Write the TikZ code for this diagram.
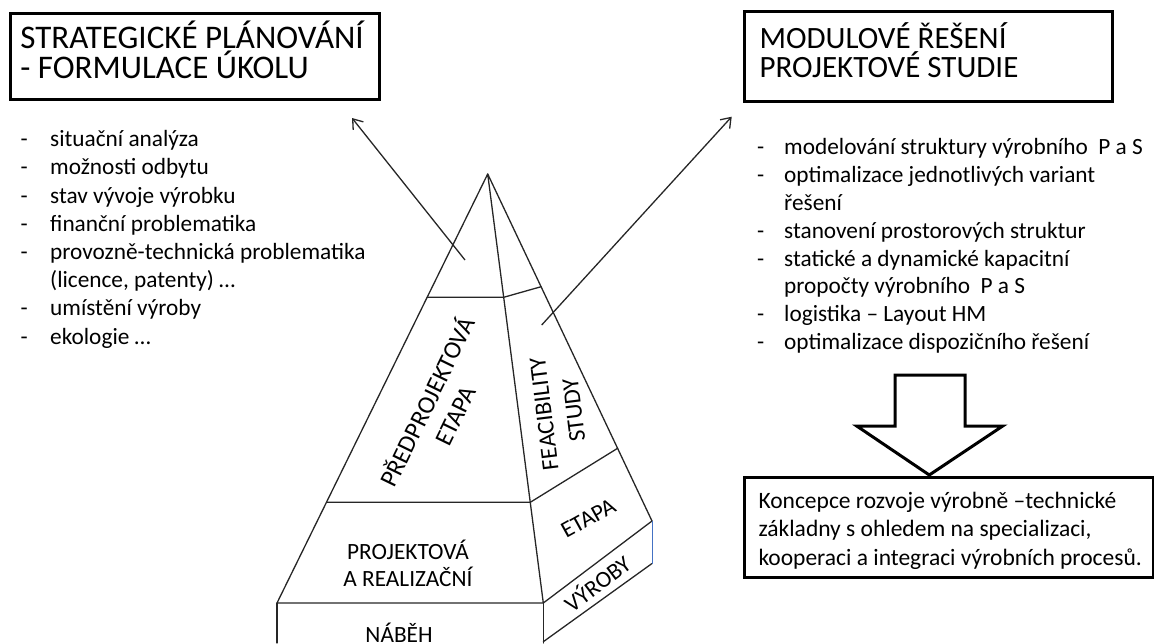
\documentclass[tikz,border=0pt]{standalone}
\usepackage{fontspec}
\setmainfont{Carlito}
\usetikzlibrary{arrows.meta,calc}
\newcommand{\itm}[2][29.5pt]{\makebox[#1][l]{-}#2}
\newcommand{\cnt}[2][29.5pt]{\hspace*{#1}#2}
\begin{document}
\begin{tikzpicture}[x=1pt,y=-1pt,
  edge/.style={line width=1.3pt, draw=black!85, line cap=round, line join=round},
  frame/.style={line width=3pt, draw=black, inner sep=0pt, anchor=north west},
  pointer/.style={line width=1.3pt, draw=black!85, -{Straight Barb[length=9pt,width=13pt,line width=1.3pt]}},
  % multi-line nodes: the base anchor sits on the baseline of the last line
  titletext/.style={font=\fontsize{33}{30.5}\selectfont, align=left, inner sep=0pt, anchor=base west},
  listtext/.style={font=\fontsize{23.3}{28.2}\selectfont, align=left, inner sep=0pt, anchor=base west},
  facelabel/.style={font=\fontsize{23.3}{27}\selectfont, align=center, inner sep=0pt},
]
\useasboundingbox (0,0) rectangle (1154,643);

% ---- title frames ----
\node[frame, minimum width=369pt, minimum height=86.3pt] (planbox) at (9,11.7) {};
\node[titletext] (plan) at (20.2,78.5) {STRATEGICKÉ PLÁNOVÁNÍ\\- FORMULACE ÚKOLU};
\node[frame, minimum width=367.4pt, minimum height=90pt] (modbox) at (743.3,10) {};
\node[titletext, font=\fontsize{31}{29.5}\selectfont] (mod) at (759.3,77.5) {MODULOVÉ ŘEŠENÍ\\PROJEKTOVÉ STUDIE};

% ---- lists ----
\node[listtext] (leftlist) at (20.5,344) {%
  \itm{situační analýza}\\
  \itm{možnosti odbytu}\\
  \itm{stav vývoje výrobku}\\
  \itm{finanční problematika}\\
  \itm{provozně-technická problematika}\\
  \cnt{(licence, patenty) …}\\
  \itm{umístění výroby}\\
  \itm{ekologie …}};
\node[listtext, font=\fontsize{23.3}{27.8}\selectfont] (rightlist) at (757,349.5) {%
  \itm[27pt]{modelování struktury výrobního\ \ P a S}\\
  \itm[27pt]{optimalizace jednotlivých variant}\\
  \cnt[27pt]{řešení}\\
  \itm[27pt]{stanovení prostorových struktur}\\
  \itm[27pt]{statické a dynamické kapacitní}\\
  \cnt[27pt]{propočty výrobního\ \ P a S}\\
  \itm[27pt]{logistika – Layout HM}\\
  \itm[27pt]{optimalizace dispozičního řešení}};

% ---- block arrow and result frame ----
\draw[line width=3pt, line join=miter] (895,375) -- (965,375) -- (965,426) -- (1002.7,426)
  -- (929.3,475) -- (856.7,426) -- (895,426) -- cycle;
\node[frame, minimum width=409.5pt, minimum height=100pt] (resbox) at (742.7,476) {};
\node[listtext, font=\fontsize{23.5}{28.4}\selectfont] (res) at (758.3,565) {Koncepce rozvoje výrobně –technické\\základny s ohledem na specializaci,\\kooperaci a integraci výrobních procesů.};

% ---- pyramid ----
\coordinate (A) at (487.7,174);
\coordinate (L) at (277,603);
\coordinate (M) at (543.3,603);
\coordinate (R) at (652,521);
\coordinate (L1) at ($(A)!0.2874!(L)$);
\coordinate (M1) at ($(A)!0.2874!(M)$);
\coordinate (L2) at ($(A)!0.7653!(L)$);
\coordinate (M2) at ($(A)!0.7653!(M)$);
\coordinate (R1) at ($(A)!0.3248!(R)$);
\coordinate (R2) at ($(A)!0.7905!(R)$);
\coordinate (Lb) at (277,643);
\coordinate (Mb) at (543.3,643);
\coordinate (Mc) at (543.3,641.7);
\coordinate (Rb) at (652,563.5);

\draw[edge] (L) -- (A) -- (M) -- cycle;
\draw[edge] (A) -- (R);
\draw[edge] (L1) -- (M1) -- (R1);
\draw[edge] (L2) -- (M2) -- (R2);
\draw[edge] (M) -- (R);
\draw[edge] (L) -- (Lb);
\draw[edge] (M) -- (Mb);
\draw[edge] (Mc) -- (Rb);
\draw[line width=0.9pt, draw={rgb,255:red,68;green,114;blue,196}] (R) -- (Rb);

% ---- face labels ----
\node[facelabel, rotate=64, font=\fontsize{25}{31}\selectfont] (pre) at (440,408) {PŘEDPROJEKTOVÁ\\ETAPA};
\node[facelabel, rotate=97, font=\fontsize{24}{30}\selectfont] (feas) at (559,412) {FEACIBILITY\\STUDY};
\node[facelabel, rotate=29] (etapa) at (588.3,518.3) {ETAPA};
\node[facelabel, rotate=37] (vyroby) at (596.7,582.5) {VÝROBY};
\node[facelabel] (proj) at (408,563) {PROJEKTOVÁ\\A REALIZAČNÍ};
\node[facelabel, anchor=base] (nabeh) at (399,642) {NÁBĚH};

% ---- pointers to the headings ----
\coordinate (p1) at (465,260);
\coordinate (p1tip) at (352,118);
\coordinate (p2) at (541.7,325);
\coordinate (p2tip) at (731.7,116.7);
\draw[pointer] (p1) -- (p1tip);
\draw[pointer] (p2) -- (p2tip);
\end{tikzpicture}
\end{document}
